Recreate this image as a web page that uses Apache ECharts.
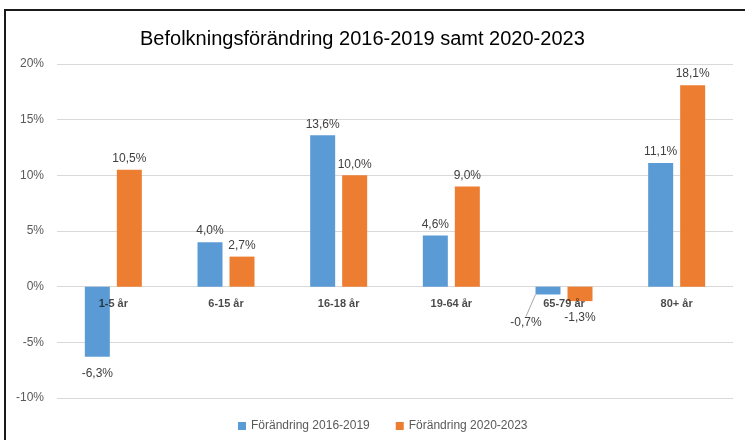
<!DOCTYPE html>
<html>
<head>
<meta charset="utf-8">
<script src="https://cdn.jsdelivr.net/npm/echarts@6/dist/echarts.min.js"></script>
<style>
	html, body { margin: 0; padding: 0; background: #fff; }
	#chart { width: 745px; height: 440px; }
</style>
</head>
<body>
<div id="chart"></div>
<script>
const categories = ['1-5 år', '6-15 år', '16-18 år', '19-64 år', '65-79 år', '80+ år'];
const change2016to2019 = [-6.3, 4.0, 13.6, 4.6, -0.7, 11.1];
const change2020to2023 = [10.5, 2.7, 10.0, 9.0, -1.3, 18.1];
const seriesNames = ['Förändring 2016-2019', 'Förändring 2020-2023'];

const font = '"Liberation Sans", "DejaVu Sans", sans-serif';

function pct(v) {
	return v.toFixed(1).replace('.', ',') + '%';
}

// negative bars get their labels a bit further from the bar end
function barItems(values, movedIndex) {
	return values.map((v, i) => {
		const item = { value: v };
		if (v < 0) item.label = { distance: 11 };
		if (i === movedIndex) item.labelLine = { show: true };
		return item;
	});
}

function barSeries(name, data, color, extra) {
	return Object.assign({
		name,
		type: 'bar',
		data,
		barWidth: 25,
		barGap: '28%',
		itemStyle: { color },
		label: {
			show: true,
			position: 'outside',
			distance: 5,
			color: '#404040',
			fontSize: 12,
			fontFamily: font,
			formatter: (p) => pct(p.value),
		},
	}, extra || {});
}

const chart = echarts.init(document.getElementById('chart'), null, { renderer: 'canvas' });

chart.setOption({
	animation: false,
	title: {
		text: 'Befolkningsförändring 2016-2019 samt 2020-2023',
		left: 135,
		top: 24,
		textStyle: { fontSize: 20, fontWeight: 'normal', color: '#000', fontFamily: font },
	},
	graphic: [
		{ type: 'line', shape: { x1: 4, y1: 10, x2: 745, y2: 10 }, style: { stroke: '#1a1a1a', lineWidth: 2 } },
		{ type: 'line', shape: { x1: 5, y1: 10, x2: 5, y2: 440 }, style: { stroke: '#1a1a1a', lineWidth: 2 } },
	],
	legend: {
		bottom: 3,
		left: 233,
		itemWidth: 8,
		itemHeight: 8,
		itemGap: 26,
		icon: 'rect',
		textStyle: { color: '#595959', fontSize: 12, fontFamily: font },
		data: seriesNames,
	},
	grid: { left: 57, right: 12, top: 64, bottom: 42 },
	xAxis: {
		type: 'category',
		data: categories,
		axisLine: { show: false },
		axisTick: { show: false },
		axisLabel: { show: false },
	},
	yAxis: {
		type: 'value',
		min: -10,
		max: 20,
		interval: 5,
		axisLine: { show: false },
		axisTick: { show: false },
		axisLabel: { color: '#595959', fontSize: 12, fontFamily: font, margin: 13, formatter: (v) => v + '%' },
		splitLine: { lineStyle: { color: '#d9d9d9' } },
	},
	series: [
		barSeries(seriesNames[0], barItems(change2016to2019, 4), '#5b9bd5', {
			labelLine: { show: false, lineStyle: { color: '#a6a6a6', width: 1 } },
			labelLayout: (p) => (p.dataIndex === 4 ? { dx: -22, dy: 11 } : {}),
		}),
		barSeries(seriesNames[1], barItems(change2020to2023, -1), '#ed7d31'),
		{
			// category names sit on the zero line, as in the original
			name: 'axis labels',
			type: 'scatter',
			data: categories.map((c) => [c, 0]),
			symbolSize: 1,
			itemStyle: { color: 'rgba(0,0,0,0)' },
			silent: true,
			z: 10,
			label: {
				show: true,
				position: 'bottom',
				distance: 11,
				color: '#1a1a1a',
				fontWeight: 'bold',
				fontSize: 11,
				fontFamily: font,
				formatter: (p) => p.value[0],
			},
		},
	],
});
</script>
</body>
</html>
